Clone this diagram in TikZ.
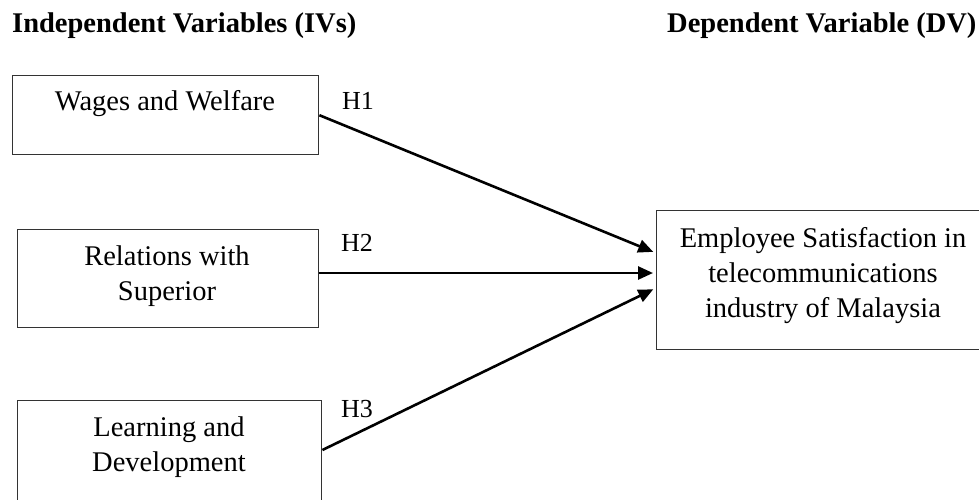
\documentclass[tikz,border=0pt]{standalone}
\usepackage{fontspec}
\setmainfont{Liberation Serif}
\usetikzlibrary{arrows.meta,calc}
\begin{document}
\begin{tikzpicture}[x=1pt,y=-1pt,
  box/.style={draw=black!80,line width=1.4pt,rectangle,inner sep=0pt,anchor=north west},
  txt/.style={font=\fontsize{28.5}{35}\selectfont,align=center,inner sep=0pt,anchor=base},
  head/.style={font=\fontsize{28.5}{35}\selectfont\bfseries,inner sep=0pt,anchor=base west},
  hyp/.style={font=\fontsize{26}{30}\selectfont,inner sep=0pt,anchor=base},
  arr/.style={line width=2.6pt,-{Triangle[length=15pt,width=13pt]},shorten >=3pt}]
\useasboundingbox (0,0) rectangle (979,499);
\begin{scope}
\clip (0,0) rectangle (979,499);
\node[head] (hiv) at (12,32) {Independent Variables (IVs)};
\node[head] (hdv) at (667,32) {Dependent Variable (DV)};
\node[box,minimum width=306pt,minimum height=79pt] (w) at (12,75) {};
\node[box,minimum width=301pt,minimum height=98pt] (r) at (17,229) {};
\node[box,minimum width=304pt,minimum height=115pt] (l) at (17,400) {};
\node[box,minimum width=340pt,minimum height=139pt] (dv) at (656,210) {};
\node[txt] (wt) at (165,110) {Wages and Welfare};
\node[txt] (rt) at (167,300) {Relations with\\Superior};
\node[txt] (lt) at (169,471) {Learning and\\Development};
\node[txt] (dvt) at (823,317) {Employee Satisfaction in\\telecommunications\\industry of Malaysia};
\coordinate (d1) at ($(dv.north west)+(0,43)$);
\coordinate (d2) at ($(dv.north west)+(0,63)$);
\coordinate (d3) at ($(dv.north west)+(0,78)$);
\coordinate (ls) at ($(l.north east)+(0,50)$);
\draw[arr] (w.east) -- (d1);
\draw[arr] (r.east |- d2) -- (d2);
\draw[arr] (ls) -- (d3);
\node[hyp] (h1) at (358,109) {H1};
\node[hyp] (h2) at (357,251) {H2};
\node[hyp] (h3) at (357,417) {H3};
\end{scope}
\end{tikzpicture}
\end{document}
